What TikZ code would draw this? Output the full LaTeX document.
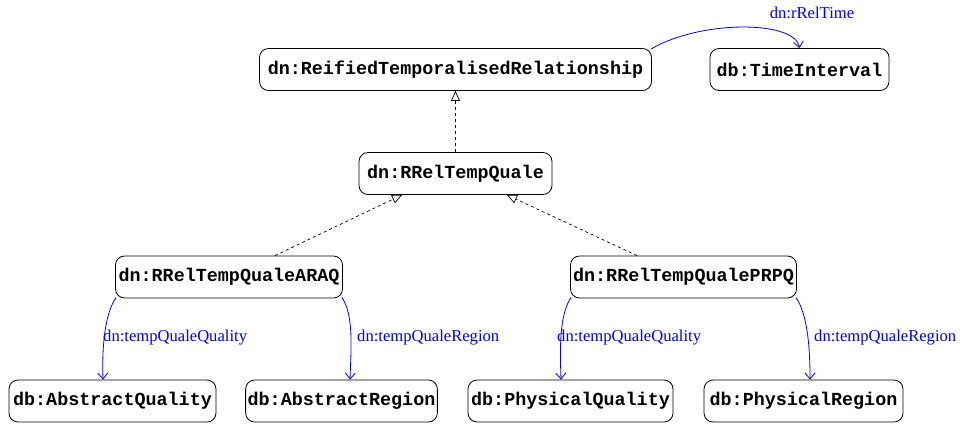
\documentclass[tikz,border=0pt]{standalone}
\usepackage{fontspec}
\setmainfont{Liberation Serif}
\setmonofont{Liberation Mono}
\usetikzlibrary{arrows.meta}
\begin{document}
\begin{tikzpicture}[x=1pt,y=-1pt,
  cls/.style={draw, rounded corners=9pt, line width=0.8pt, minimum height=42pt, inner xsep=2pt,
    font=\fontsize{18.4}{20}\selectfont\ttfamily\bfseries},
  isa/.style={dashed, line width=0.7pt, -{Triangle[open, length=10pt, width=9pt]}},
  rel/.style={blue, line width=0.8pt, -{Straight Barb[length=6pt, width=10pt]}},
  lbl/.style={blue, font=\fontsize{16.6}{18}\selectfont, inner sep=0pt}]
\useasboundingbox (0,0) rectangle (960,424);
\node[cls, minimum width=392pt] (rtr) at (455.5,69.5) {dn:ReifiedTemporalisedRelationship};
\node[cls, minimum width=179pt] (ti) at (799.5,69.5) {db:TimeInterval};
\node[cls, minimum width=193pt] (rq) at (455.5,173.5) {dn:RRelTempQuale};
\node[cls, minimum width=227pt] (araq) at (229,277) {dn:RRelTempQualeARAQ};
\node[cls, minimum width=226pt] (prpq) at (683.5,277) {dn:RRelTempQualePRPQ};
\node[cls, minimum width=207pt] (aq) at (112.5,401) {db:AbstractQuality};
\node[cls, minimum width=191pt] (ar) at (341.5,401) {db:AbstractRegion};
\node[cls, minimum width=205pt] (pq) at (570.5,401) {db:PhysicalQuality};
\node[cls, minimum width=199pt] (pr) at (803.5,401) {db:PhysicalRegion};

\draw[isa] (rq.north) -- (rtr.south);
\draw[isa] (araq.north -| 275,0) -- (rq.south -| 402,0);
\draw[isa] (prpq.north -| 637,0) -- (rq.south -| 507,0);

\draw[rel] (rtr.north east) ++(-1,1) coordinate (s1)
  (s1) .. controls (700,20) and (795,20) .. (ti.north);
\node[lbl] (l1) at (812,13) {dn:rRelTime};

\draw[rel] (araq.south west) ++(1,-1) coordinate (s2)
  (s2) .. controls (104,315) and (102,350) .. (aq.north -| 103,0);
\node[lbl, anchor=west] (l2) at (103,338) {dn:tempQualeQuality};
\draw[rel] (araq.south east) ++(-1,-1) coordinate (s3)
  (s3) .. controls (354,315) and (351,350) .. (ar.north -| 350,0);
\node[lbl, anchor=west] (l3) at (357,338) {dn:tempQualeRegion};

\draw[rel] (prpq.south west) ++(1,-1) coordinate (s4)
  (s4) .. controls (559,315) and (560,350) .. (pq.north -| 561,0);
\node[lbl, anchor=west] (l4) at (557,338) {dn:tempQualeQuality};
\draw[rel] (prpq.south east) ++(-1,-1) coordinate (s5)
  (s5) .. controls (808,315) and (810,350) .. (pr.north -| 810,0);
\node[lbl, anchor=west] (l5) at (814,338) {dn:tempQualeRegion};
\end{tikzpicture}
\end{document}
